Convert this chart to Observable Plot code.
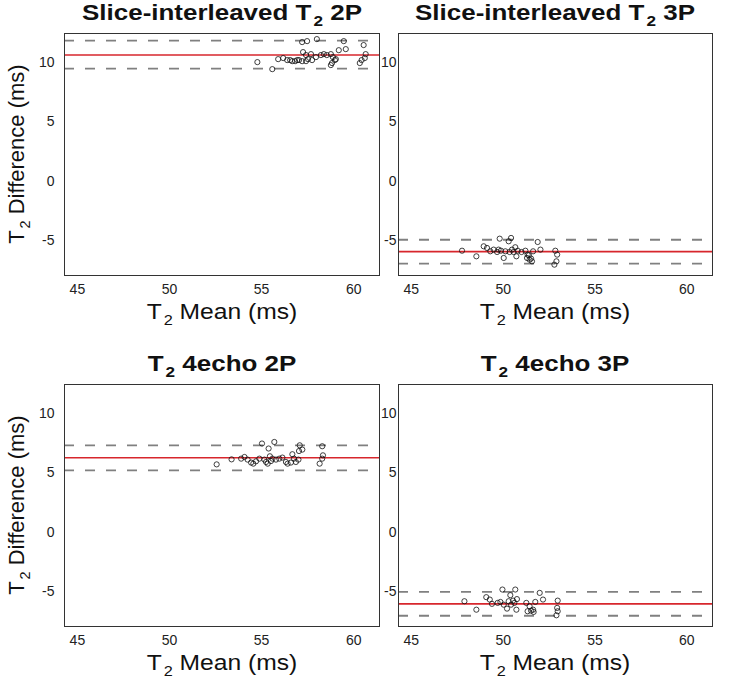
<!DOCTYPE html>
<html>
<head>
<meta charset="utf-8">
<script src="https://cdn.jsdelivr.net/npm/d3@7"></script>
<script src="https://cdn.jsdelivr.net/npm/@observablehq/plot@0.6"></script>
<style>
  html, body { margin: 0; padding: 0; background: #fff; }
  #root { position: relative; width: 740px; height: 687px; overflow: hidden; font-family: "Liberation Sans", Arial, sans-serif; color: #111; }
  .panel { position: absolute; }
  .txt { position: absolute; white-space: nowrap; line-height: 1; }
  .title { font-weight: bold; font-size: 22px; transform: translateX(-50%) scaleX(1.18); }
  .xlabel { font-size: 22px; transform: translateX(-50%) scaleX(1.12); }
  .ylabel { font-size: 22px; transform: translate(-50%, -50%) rotate(-90deg); }
  sub { font-size: 0.66em; vertical-align: -0.42em; line-height: 0; margin-left: 0.12em; }
</style>
</head>
<body>
<div id="root"></div>
<script>
// ---------- data ----------
const panelTitles = ["Slice-interleaved T|2| 2P", "Slice-interleaved T|2| 3P", "T|2| 4echo 2P", "T|2| 4echo 3P"];
const xAxisLabel = "T|2| Mean (ms)";
const yAxisLabel = "T|2| Difference (ms)";
const xTicks = [45, 50, 55, 60];
const yTicks = [-5, 0, 5, 10];

// Slice-interleaved T2 2P
const meanSI2P = [54.77, 55.58, 55.90, 56.17, 56.39, 56.55, 56.66, 56.82, 56.93, 57.03, 57.20, 57.47, 58.00, 57.25, 57.41, 57.68, 57.52, 57.74, 57.41, 57.95, 58.22, 58.38, 58.54, 58.76, 58.87, 58.98, 59.03, 59.19, 59.57, 59.46, 58.76, 58.82, 60.54, 60.65, 60.60, 60.43, 60.33, 57.20];
const diffSI2P = [10.00, 9.41, 10.25, 10.34, 10.17, 10.17, 10.08, 10.08, 10.17, 10.17, 11.68, 11.76, 11.93, 10.84, 10.59, 10.67, 10.25, 10.17, 10.08, 10.42, 10.59, 10.67, 10.59, 10.67, 10.42, 10.17, 10.25, 11.00, 11.09, 11.76, 9.75, 9.92, 11.43, 10.67, 10.34, 10.17, 9.92, 10.08];

// Slice-interleaved T2 3P
const meanSI3P = [47.76, 48.54, 48.94, 49.12, 49.30, 49.48, 49.67, 49.75, 49.81, 49.88, 50.03, 50.12, 50.30, 50.43, 50.35, 50.48, 50.57, 50.66, 50.72, 50.79, 51.21, 51.30, 51.33, 51.44, 51.52, 51.57, 51.63, 51.40, 51.88, 52.03, 52.84, 52.94, 52.90, 52.79, 51.00];
const diffSI3P = [-5.82, -6.29, -5.45, -5.59, -5.87, -5.73, -5.93, -5.73, -4.81, -5.82, -6.43, -5.87, -5.03, -4.75, -5.93, -5.73, -5.93, -5.53, -6.29, -5.82, -5.82, -6.43, -6.15, -6.57, -6.48, -6.71, -5.87, -6.20, -5.09, -5.73, -5.82, -6.15, -6.71, -6.99, -5.93];

// T2 4echo 2P
const mean4E2P = [52.56, 53.37, 53.89, 54.07, 54.24, 54.43, 54.55, 54.70, 54.88, 55.02, 55.15, 55.24, 55.33, 55.38, 55.45, 55.51, 55.59, 55.69, 55.78, 55.96, 56.13, 56.32, 56.41, 56.59, 56.67, 56.76, 56.86, 57.00, 57.03, 57.07, 57.21, 58.29, 58.33, 58.29, 58.15];
const diff4E2P = [5.70, 6.12, 6.18, 6.32, 6.10, 5.85, 5.76, 5.96, 6.18, 7.45, 6.10, 5.90, 5.76, 7.03, 6.38, 5.98, 6.18, 7.58, 6.10, 6.18, 6.27, 5.90, 5.76, 5.85, 6.55, 6.18, 5.90, 6.10, 6.82, 7.30, 6.94, 7.22, 6.46, 6.18, 5.76];

// T2 4echo 3P
const mean4E3P = [47.89, 48.54, 49.08, 49.27, 49.39, 49.70, 49.85, 49.96, 50.03, 50.21, 50.30, 50.39, 50.43, 50.54, 50.61, 50.66, 50.72, 50.75, 51.26, 51.33, 51.44, 51.52, 51.63, 51.66, 51.75, 51.99, 52.17, 52.97, 52.94, 52.97, 52.90];
const diff4E3P = [-5.78, -6.49, -5.44, -5.64, -6.00, -5.92, -5.84, -4.80, -6.07, -6.40, -5.78, -5.27, -6.07, -5.73, -5.92, -4.80, -6.49, -5.60, -5.92, -6.62, -6.20, -6.57, -6.49, -6.68, -5.84, -5.08, -5.64, -5.73, -6.34, -6.62, -6.96];

// bias (mean difference) and limits of agreement, per panel
const biasValues = [10.6, -5.9, 6.25, -6.0];
const upperLoA = [11.8, -4.9, 7.3, -5.0];
const lowerLoA = [9.45, -6.9, 5.2, -7.0];

// ---------- layout ----------
const xDomain = [44.3, 61.4];
const yDomain = [-7.9, 12.4];
const frames = [
  {left: 64, top: 33, w: 315, h: 242, pad: 10},
  {left: 398, top: 33, w: 314, h: 242, pad: 2},
  {left: 64, top: 384, w: 315, h: 242, pad: 10},
  {left: 398, top: 384, w: 314, h: 242, pad: 2}
];
const datasets = [[meanSI2P, diffSI2P], [meanSI3P, diffSI3P], [mean4E2P, diff4E2P], [mean4E3P, diff4E3P]];

const root = document.getElementById("root");
function richText(s) {
  const parts = s.split("|");
  return parts.map((p, i) => i % 2 === 1 ? `<sub>${p}</sub>` : p).join("");
}
function addText(cls, html, x, y) {
  const d = document.createElement("div");
  d.className = "txt " + cls;
  d.innerHTML = html;
  d.style.left = x + "px";
  d.style.top = y + "px";
  root.appendChild(d);
}

const mL = 52, mR = 4, mT = 6, mB = 30;
frames.forEach((f, i) => {
  const [xs, ys] = datasets[i];
  const pts = xs.map((x, k) => ({x, y: ys[k]}));
  const chart = Plot.plot({
    width: mL + f.w + mR,
    height: mT + f.h + mB,
    marginLeft: mL, marginRight: mR, marginTop: mT, marginBottom: mB,
    style: {background: "transparent", fontFamily: "Liberation Sans, Arial, sans-serif", fontSize: "14px", color: "#222"},
    x: {domain: xDomain, ticks: xTicks, tickSize: 0, tickPadding: 9, label: null, tickFormat: d => String(d)},
    y: {domain: yDomain, ticks: yTicks, tickSize: 0, tickPadding: f.pad, label: null, tickFormat: d => String(d)},
    marks: [
      Plot.ruleY([upperLoA[i], lowerLoA[i]], {stroke: "#808080", strokeWidth: 1.8, strokeDasharray: "10,11"}),
      Plot.ruleY([biasValues[i]], {stroke: "#d7262c", strokeWidth: 1.6}),
      Plot.dot(pts, {x: "x", y: "y", r: 2.6, stroke: "#111", strokeWidth: 0.8, fill: "none"}),
      Plot.frame({stroke: "#333", strokeWidth: 1})
    ]
  });
  const wrap = document.createElement("div");
  wrap.className = "panel";
  wrap.style.left = (f.left - mL) + "px";
  wrap.style.top = (f.top - mT) + "px";
  wrap.appendChild(chart);
  root.appendChild(wrap);

  const cx = f.left + f.w / 2;
  addText("title", richText(panelTitles[i]), cx, f.top - 31);
  addText("xlabel", richText(xAxisLabel), cx, f.top + f.h + 26);
  if (i % 2 === 0) addText("ylabel", richText(yAxisLabel), 17, f.top + f.h / 2);
});
</script>
</body>
</html>
